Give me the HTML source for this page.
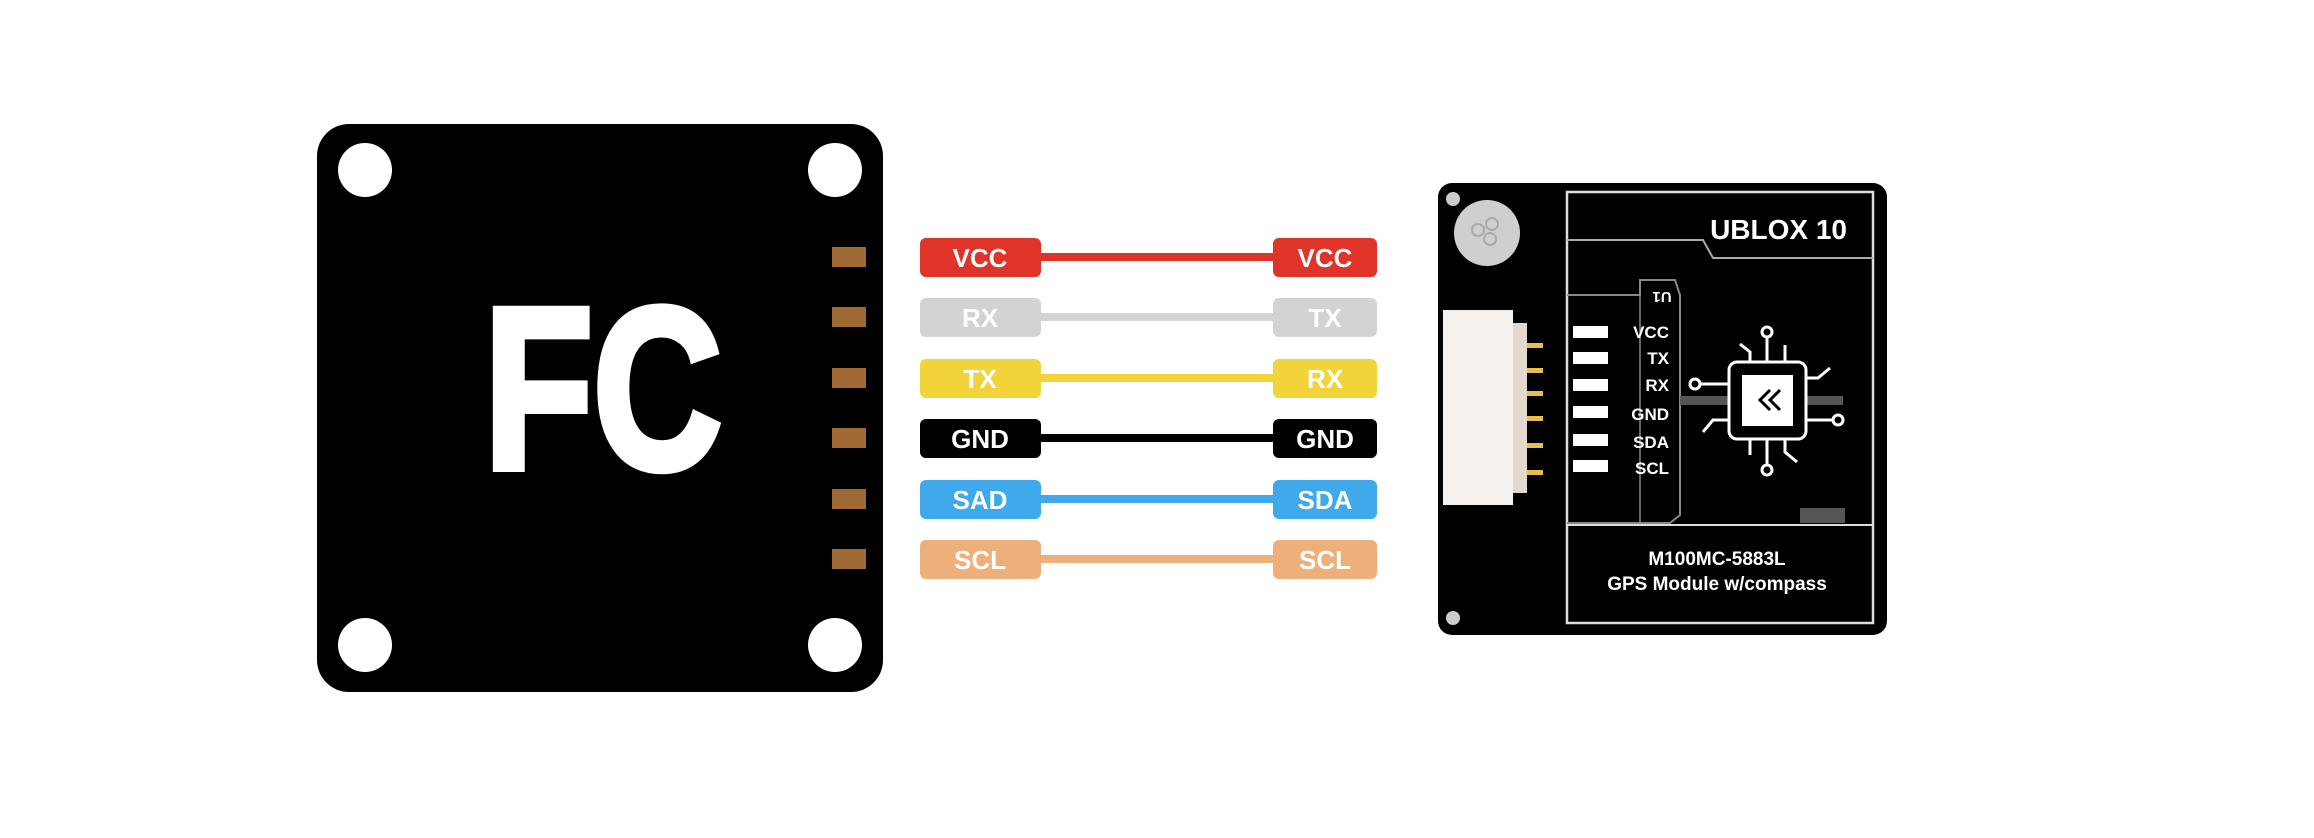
<!DOCTYPE html>
<html><head><meta charset="utf-8"><style>
html,body{margin:0;padding:0;background:#fff;}
body{width:2314px;height:838px;overflow:hidden;position:relative;font-family:"Liberation Sans",sans-serif;}
</style></head><body>
<svg width="2314" height="838" viewBox="0 0 2314 838" xmlns="http://www.w3.org/2000/svg" style="position:absolute;left:0;top:0">
<!-- FC board -->
<rect x="317" y="124" width="566" height="568" rx="32" fill="#000"/>
<circle cx="365" cy="170" r="27" fill="#fff"/>
<circle cx="835" cy="170" r="27" fill="#fff"/>
<circle cx="365" cy="645" r="27" fill="#fff"/>
<circle cx="835" cy="645" r="27" fill="#fff"/>
<g fill="#a06a35">
<rect x="832" y="247" width="34" height="20"/>
<rect x="832" y="307" width="34" height="20"/>
<rect x="832" y="368" width="34" height="20"/>
<rect x="832" y="428" width="34" height="20"/>
<rect x="832" y="489" width="34" height="20"/>
<rect x="832" y="549" width="34" height="20"/>
</g>
<text x="484" y="468" font-family="Liberation Sans,sans-serif" font-weight="bold" font-size="230" fill="#fff" stroke="#fff" stroke-width="8" stroke-linejoin="miter" textLength="238" lengthAdjust="spacingAndGlyphs">FC</text>

<!-- wires -->
<g font-family="Liberation Sans,sans-serif" font-weight="bold" font-size="26" fill="#fff" text-anchor="middle">
<rect x="1040" y="253" width="234" height="8" fill="#e0332a"/>
<rect x="920" y="238" width="121" height="39" rx="6" fill="#e0332a"/><rect x="1273" y="238" width="104" height="39" rx="6" fill="#e0332a"/>
<text x="980" y="267">VCC</text><text x="1325" y="267">VCC</text>

<rect x="1040" y="313" width="234" height="8" fill="#d3d3d3"/>
<rect x="920" y="298" width="121" height="39" rx="6" fill="#d3d3d3"/><rect x="1273" y="298" width="104" height="39" rx="6" fill="#d3d3d3"/>
<text x="980" y="327">RX</text><text x="1325" y="327">TX</text>

<rect x="1040" y="374" width="234" height="8" fill="#f2d33a"/>
<rect x="920" y="359" width="121" height="39" rx="6" fill="#f2d33a"/><rect x="1273" y="359" width="104" height="39" rx="6" fill="#f2d33a"/>
<text x="980" y="388">TX</text><text x="1325" y="388">RX</text>

<rect x="1040" y="434" width="234" height="8" fill="#000"/>
<rect x="920" y="419" width="121" height="39" rx="6" fill="#000"/><rect x="1273" y="419" width="104" height="39" rx="6" fill="#000"/>
<text x="980" y="448">GND</text><text x="1325" y="448">GND</text>

<rect x="1040" y="495" width="234" height="8" fill="#3fa9ec"/>
<rect x="920" y="480" width="121" height="39" rx="6" fill="#3fa9ec"/><rect x="1273" y="480" width="104" height="39" rx="6" fill="#3fa9ec"/>
<text x="980" y="509">SAD</text><text x="1325" y="509">SDA</text>

<rect x="1040" y="555" width="234" height="8" fill="#eeb07a"/>
<rect x="920" y="540" width="121" height="39" rx="6" fill="#eeb07a"/><rect x="1273" y="540" width="104" height="39" rx="6" fill="#eeb07a"/>
<text x="980" y="569">SCL</text><text x="1325" y="569">SCL</text>
</g>

<!-- GPS board -->
<rect x="1438" y="183" width="449" height="452" rx="14" fill="#000"/>
<circle cx="1453" cy="199" r="7" fill="#ccc"/>
<circle cx="1453" cy="618" r="7" fill="#ccc"/>
<circle cx="1487" cy="233" r="33" fill="#cfcfcf"/>
<g fill="none" stroke="#aaa" stroke-width="2"><circle cx="1478" cy="230" r="6"/><circle cx="1492" cy="224" r="6"/><circle cx="1490" cy="239" r="6"/></g>
<rect x="1443" y="310" width="70" height="195" fill="#f4f1ee"/>
<rect x="1513" y="323" width="14" height="170" fill="#e2d8cc"/>
<g fill="#e6c04a">
<rect x="1527" y="343" width="16" height="5"/><rect x="1527" y="368" width="16" height="5"/><rect x="1527" y="391" width="16" height="5"/>
<rect x="1527" y="416" width="16" height="5"/><rect x="1527" y="443" width="16" height="5"/><rect x="1527" y="470" width="16" height="5"/>
</g>
<rect x="1567" y="192" width="306" height="431" fill="none" stroke="#ddd" stroke-width="2.5"/>
<path d="M1567 240 L1703 240 L1713 258 L1873 258" fill="none" stroke="#aaa" stroke-width="2"/>
<path d="M1567 295 L1640 295 L1640 280 L1675 280 L1680 295 L1680 515 L1670 523 L1567 523" fill="none" stroke="#888" stroke-width="2"/>
<line x1="1640" y1="295" x2="1640" y2="523" stroke="#888" stroke-width="1.5"/>
<line x1="1567" y1="525" x2="1873" y2="525" stroke="#ddd" stroke-width="2"/>
<rect x="1800" y="508" width="45" height="15" fill="#555"/>
<text x="1847" y="239" font-family="Liberation Sans,sans-serif" font-weight="bold" font-size="28" fill="#fff" text-anchor="end">UBLOX 10</text>
<g fill="#fff">
<rect x="1573" y="326" width="35" height="12"/><rect x="1573" y="352" width="35" height="12"/><rect x="1573" y="379" width="35" height="12"/>
<rect x="1573" y="406" width="35" height="12"/><rect x="1573" y="434" width="35" height="12"/><rect x="1573" y="460" width="35" height="12"/>
</g>
<g font-family="Liberation Sans,sans-serif" font-weight="bold" font-size="17" fill="#fff" text-anchor="end">
<text x="1669" y="338">VCC</text><text x="1669" y="364">TX</text><text x="1669" y="391">RX</text>
<text x="1669" y="420">GND</text><text x="1669" y="448">SDA</text><text x="1669" y="474">SCL</text>
</g>
<text x="1662" y="300" font-family="Liberation Sans,sans-serif" font-weight="bold" font-size="15" fill="#fff" text-anchor="middle" transform="rotate(180 1662 296)">U1</text>
<!-- chip -->
<rect x="1680" y="396" width="163" height="9" fill="#555"/>
<g stroke="#fff" stroke-width="3" fill="none">
<line x1="1767" y1="362" x2="1767" y2="337"/><circle cx="1767" cy="332" r="5"/>
<line x1="1767" y1="438" x2="1767" y2="465"/><circle cx="1767" cy="470" r="5"/>
<line x1="1729" y1="384" x2="1700" y2="384"/><circle cx="1695" cy="384" r="5"/>
<line x1="1805" y1="420" x2="1833" y2="420"/><circle cx="1838" cy="420" r="5"/>
<path d="M1750 362 L1750 352 L1740 344"/><path d="M1785 362 L1785 345"/>
<path d="M1805 378 L1818 378 L1830 368"/><path d="M1729 420 L1713 420 L1703 432"/>
<path d="M1750 438 L1750 455"/><path d="M1785 438 L1785 452 L1797 462"/>
</g>
<rect x="1729" y="362" width="77" height="77" rx="8" fill="#000" stroke="#fff" stroke-width="3"/>
<rect x="1742" y="375" width="51" height="51" fill="#fff"/>
<path d="M1770 390 L1760 400 L1770 410 M1780 390 L1770 400 L1780 410" stroke="#000" stroke-width="3" fill="none"/>
<g font-family="Liberation Sans,sans-serif" font-weight="bold" font-size="19" fill="#fff" text-anchor="middle">
<text x="1717" y="565">M100MC-5883L</text>
<text x="1717" y="590">GPS Module w/compass</text>
</g>
</svg>
</body></html>
